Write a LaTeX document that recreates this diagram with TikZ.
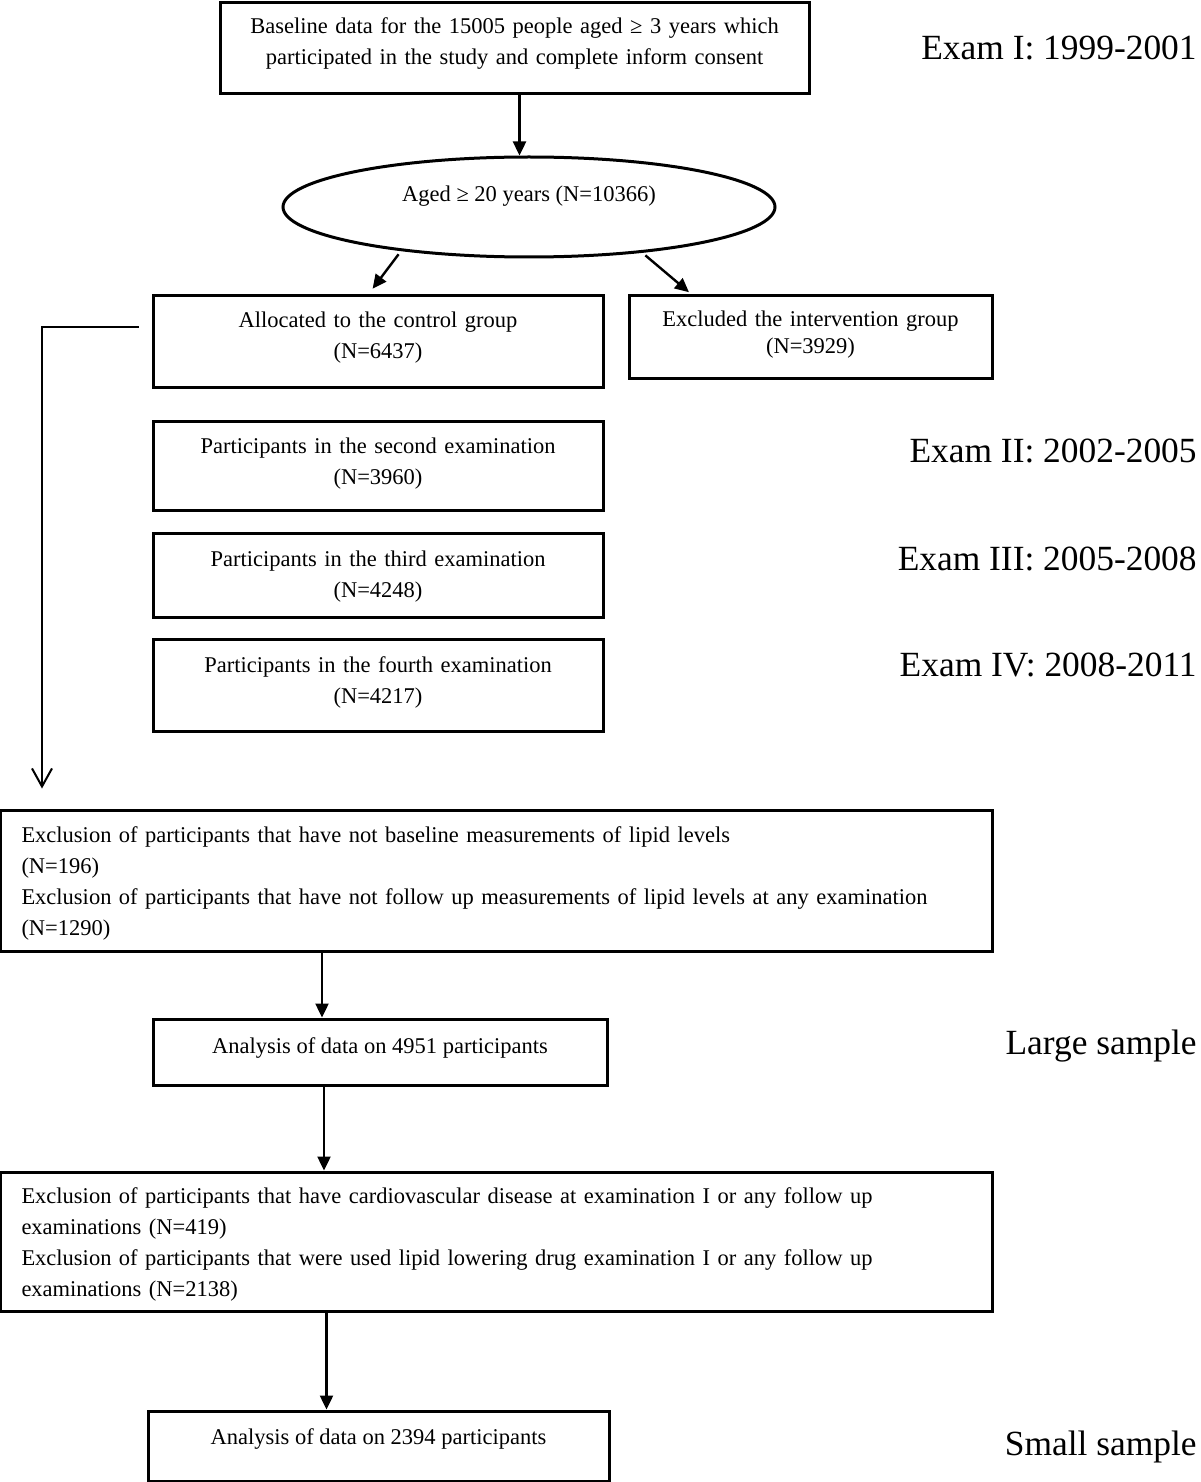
\documentclass[tikz,border=0pt]{standalone}
\usepackage{fontspec}
\setmainfont{Liberation Serif}
\usetikzlibrary{shapes.geometric,arrows.meta}

\begin{document}
\begin{tikzpicture}%
        [x=0.5pt, y=-0.5pt,
        txt/.style={font=\fontsize{11.25}{15.5}\selectfont},
        box/.style={txt, draw, line width=1.5pt, rectangle, inner sep=0pt, align=center},
        wide/.style={txt, draw, line width=1.5pt, rectangle, inner ysep=0pt, inner xsep=10.5pt,
            align=left, text width=475pt, minimum width=496pt, text height=11pt},
        oval/.style={txt, draw, line width=1.5pt, ellipse, inner sep=0pt},
        arr/.style={line width=1.2pt, -{Triangle[length=7pt,width=6.5pt]}},
        exam/.style={anchor=base east, inner sep=0pt, font=\fontsize{17.7}{20}\selectfont}]

    \useasboundingbox (0,0) rectangle (1200,1482);

    %% Exam I
    \node[box, minimum width=294.5pt, minimum height=45.5pt, text width=290pt, text depth=23.2pt] (base) at (514.5,48.5)
        {Baseline data for the 15005 people aged ≥ 3 years which\\participated in the study and complete inform consent};
    \node[oval, minimum width=246pt, minimum height=50pt, text depth=13.7pt] (ell) at (529,207)
        {Aged ≥ 20 years (N=10366)};
    \node[box, minimum width=225pt, minimum height=46pt, text width=220pt, text depth=21.7pt] (ctrl) at (378,341)
        {Allocated to the control group\\(N=6437)};
    \node[box, minimum width=181.5pt, minimum height=41.5pt, text width=176pt, text depth=18pt] (excl) at (810.5,336.5)
        {Excluded the intervention group\\[-2pt](N=3929)};

    %% follow up examinations
    \node[box, minimum width=225pt, minimum height=44.5pt, text width=220pt, text depth=20.2pt] (second) at (378,465.5)
        {Participants in the second examination\\(N=3960)};
    \node[box, minimum width=225pt, minimum height=42pt, text width=220pt, text depth=16.7pt] (third) at (378,575)
        {Participants in the third examination\\(N=4248)};
    \node[box, minimum width=225pt, minimum height=46pt, text width=220pt, text depth=20.7pt] (fourth) at (378,685)
        {Participants in the fourth examination\\(N=4217)};

    %% Exclusions and samples
    \node[wide, minimum height=70.5pt] (exclA) at (496.5,880.5)
        {Exclusion of participants that have not baseline measurements of lipid levels\\(N=196)\\Exclusion of participants that have not follow up measurements of lipid levels at any examination\\(N=1290)};
    \node[box, minimum width=227pt, minimum height=33pt, text depth=6.7pt] (anaA) at (380,1052)
        {Analysis of data on 4951 participants};
    \node[wide, minimum height=69.5pt] (exclB) at (496.5,1241.5)
        {Exclusion of participants that have cardiovascular disease at examination I or any follow up\\examinations (N=419)\\Exclusion of participants that were used lipid lowering drug examination I or any follow up\\examinations (N=2138)};
    \node[box, minimum width=230.5pt, minimum height=35pt, text depth=9.7pt] (anaB) at (378.5,1446)
        {Analysis of data on 2394 participants};

    %% labels on the right
    \node[exam] (examI) at (1197,60) {Exam I: 1999-2001};
    \node[exam] (examII) at (1197,462) {Exam II: 2002-2005};
    \node[exam] (examIII) at (1197,570) {Exam III: 2005-2008};
    \node[exam] (examIV) at (1197,676) {Exam IV: 2008-2011};
    \node[exam] (large) at (1197,1054) {Large sample};
    \node[exam] (small) at (1197,1455) {Small sample};

    %% arrows
    \draw[arr] ([xshift=2.5pt]base.south) -- ([xshift=2.5pt]base.south |- ell.north);
    \draw[arr, shorten <=2pt, shorten >=3pt] (ell.199) -- ([xshift=-4.5pt]ctrl.north);
    \draw[arr, shorten <=2pt, shorten >=1pt] (ell.338) -- ([xshift=-60pt]excl.north);
    \draw[line width=1pt, -{Straight Barb[length=9pt,width=10pt]}, shorten >=10pt]
        ([xshift=-6.5pt,yshift=7pt]ctrl.west) -| ([xshift=21.5pt]exclA.north west);
    \draw[arr] ([xshift=-29pt]anaA.north |- exclA.south) -- ([xshift=-29pt]anaA.north);
    \draw[arr] ([xshift=-28pt]anaA.south) -- ([xshift=-28pt]anaA.south |- exclB.north);
    \draw[arr] ([xshift=-26pt]anaB.north |- exclB.south) -- ([xshift=-26pt]anaB.north);
\end{tikzpicture}
\end{document}
